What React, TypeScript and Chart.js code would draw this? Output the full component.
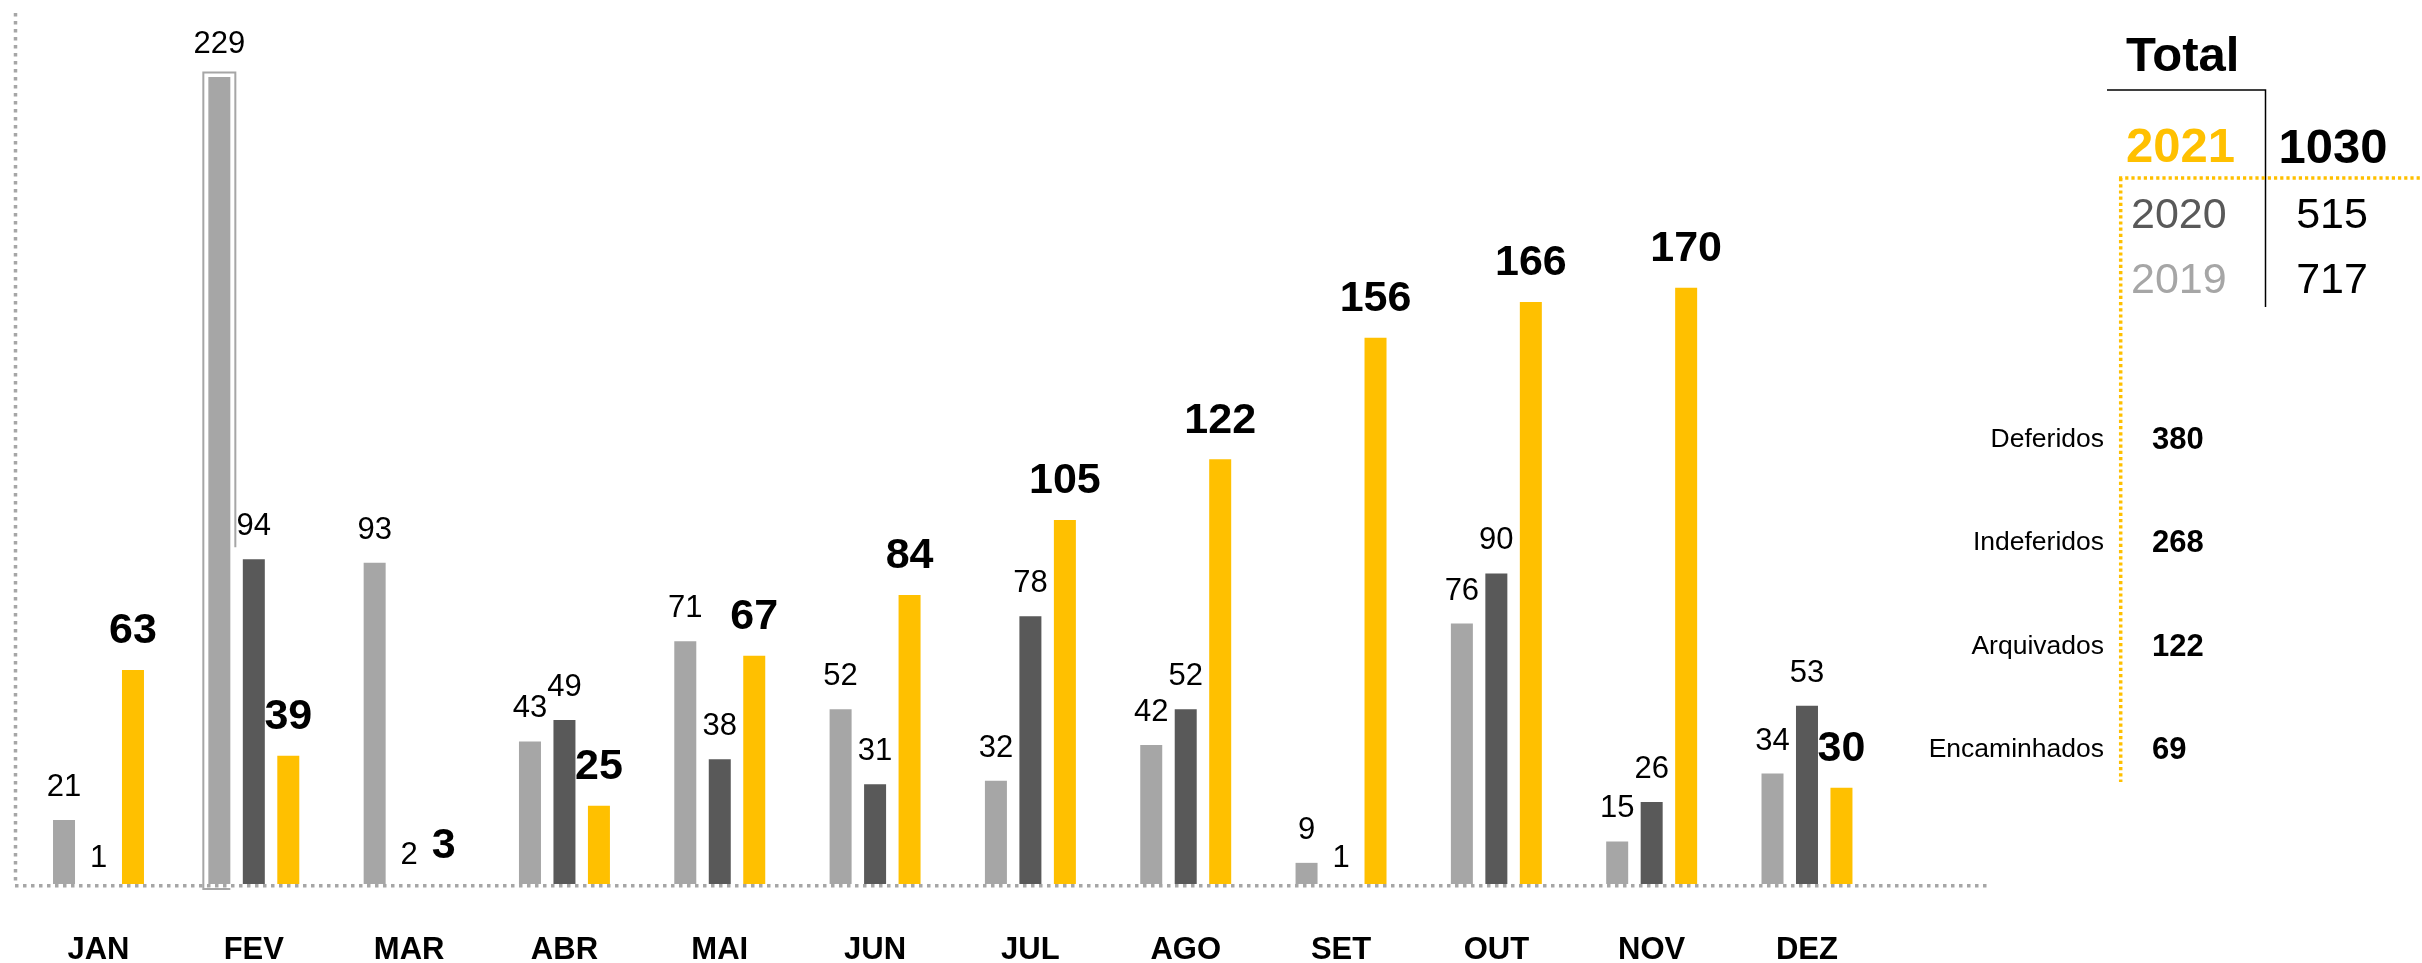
import { useEffect, useRef } from 'react';
import { Chart, registerables } from 'chart.js';

Chart.register(...registerables);

const months = ['JAN', 'FEV', 'MAR', 'ABR', 'MAI', 'JUN', 'JUL', 'AGO', 'SET', 'OUT', 'NOV', 'DEZ'];
const years = ['2019', '2020', '2021'];
const values2019 = [21, 229, 93, 43, 71, 52, 32, 42, 9, 76, 15, 34];
const values2020 = [1, 94, 2, 49, 38, 31, 78, 52, 1, 90, 26, 53];
const values2021 = [63, 39, 3, 25, 67, 84, 105, 122, 156, 166, 170, 30];
const statusLabels = ['Deferidos', 'Indeferidos', 'Arquivados', 'Encaminhados'];
const statusValues = [380, 268, 122, 69];

const yearColors = ['#A6A6A6', '#595959', '#FFC000'];
const FONT = "'Liberation Sans', Arial, Helvetica, sans-serif";

const sum = (a: number[]) => a.reduce((s, v) => s + v, 0);

const axisLinesPlugin = {
  id: 'axisLines',
  beforeDatasetsDraw(chart: any) {
    const { ctx, chartArea } = chart;
    ctx.save();
    ctx.strokeStyle = '#A6A6A6';
    ctx.lineWidth = 3.5;
    ctx.setLineDash([3.5, 4.5]);
    ctx.beginPath();
    ctx.moveTo(chartArea.left + 0.5, chartArea.top);
    ctx.lineTo(chartArea.left + 0.5, chartArea.bottom);
    ctx.stroke();
    ctx.beginPath();
    ctx.moveTo(chartArea.left, chartArea.bottom + 1.8);
    ctx.lineTo(chartArea.right, chartArea.bottom + 1.8);
    ctx.stroke();
    ctx.restore();
  },
};

const highlightPlugin = {
  id: 'highlightBox',
  afterDatasetsDraw(chart: any) {
    const { ctx, chartArea } = chart;
    const el = chart.getDatasetMeta(0).data[1];
    const next = chart.getDatasetMeta(1).data[1];
    if (!el || !next) return;
    const half = el.width / 2;
    const left = el.x - half - 5;
    const right = el.x + half + 5;
    const top = el.y - 4.5;
    const bottom = chartArea.bottom + 5;
    ctx.save();
    ctx.strokeStyle = '#A6A6A6';
    ctx.lineWidth = 2;
    ctx.beginPath();
    ctx.moveTo(right, next.y - 12);
    ctx.lineTo(right, top);
    ctx.lineTo(left, top);
    ctx.lineTo(left, bottom);
    ctx.lineTo(el.x + half, bottom);
    ctx.stroke();
    ctx.restore();
  },
};

const valueLabelsPlugin = {
  id: 'valueLabels',
  afterDatasetsDraw(chart: any) {
    const { ctx } = chart;
    chart.data.datasets.forEach((ds: any, di: number) => {
      const meta = chart.getDatasetMeta(di);
      const bold = di === 2;
      ctx.save();
      ctx.font = `${bold ? 'bold ' : ''}${bold ? 43 : 31}px ${FONT}`;
      ctx.fillStyle = '#000';
      ctx.textAlign = 'center';
      ctx.textBaseline = 'alphabetic';
      meta.data.forEach((el: any, i: number) => {
        const v = ds.data[i].y;
        ctx.fillText(String(v), el.x, el.y - (bold ? 26.5 : 24));
      });
      ctx.restore();
    });
  },
};

const panelPlugin = {
  id: 'totalsPanel',
  afterDraw(chart: any) {
    const { ctx } = chart;
    const totals = [sum(values2019), sum(values2020), sum(values2021)];
    ctx.save();
    ctx.textBaseline = 'alphabetic';

    // Title
    ctx.fillStyle = '#000';
    ctx.textAlign = 'left';
    ctx.font = `bold 49px ${FONT}`;
    ctx.fillText('Total', 2126, 71);

    // black corner lines
    ctx.strokeStyle = '#000';
    ctx.lineWidth = 1.5;
    ctx.beginPath();
    ctx.moveTo(2107, 90);
    ctx.lineTo(2265.5, 90);
    ctx.lineTo(2265.5, 307);
    ctx.stroke();

    // yellow dotted lines
    ctx.strokeStyle = '#FFC000';
    ctx.lineWidth = 3.5;
    ctx.setLineDash([3.2, 3]);
    ctx.beginPath();
    ctx.moveTo(2119, 178);
    ctx.lineTo(2422, 178);
    ctx.stroke();
    ctx.beginPath();
    ctx.moveTo(2120.7, 178);
    ctx.lineTo(2120.7, 782);
    ctx.stroke();
    ctx.setLineDash([]);

    // 2021 row
    ctx.font = `bold 49px ${FONT}`;
    ctx.fillStyle = yearColors[2];
    ctx.textAlign = 'left';
    ctx.fillText(years[2], 2126, 162);
    ctx.fillStyle = '#000';
    ctx.textAlign = 'center';
    ctx.fillText(String(totals[2]), 2333, 162.5);

    // 2020 / 2019 rows
    ctx.font = `43px ${FONT}`;
    [
      { yi: 1, y: 227.7 },
      { yi: 0, y: 293.3 },
    ].forEach(({ yi, y }) => {
      ctx.fillStyle = yearColors[yi];
      ctx.textAlign = 'left';
      ctx.fillText(years[yi], 2131, y);
      ctx.fillStyle = '#000';
      ctx.textAlign = 'center';
      ctx.fillText(String(totals[yi]), 2332, y);
    });

    // status breakdown
    statusLabels.forEach((lab, i) => {
      const y = 446.7 + i * 103.4;
      ctx.fillStyle = '#000';
      ctx.font = `26.5px ${FONT}`;
      ctx.textAlign = 'right';
      ctx.fillText(lab, 2104, y);
      ctx.font = `bold 31px ${FONT}`;
      ctx.textAlign = 'left';
      ctx.fillText(String(statusValues[i]), 2152, y + 2.3);
    });
    ctx.restore();
  },
};

export default function App() {
  const ref = useRef<HTMLCanvasElement | null>(null);

  useEffect(() => {
    if (!ref.current) return;
    const series = [values2019, values2020, values2021];
    const chart = new Chart(ref.current, {
      type: 'bar',
      data: {
        datasets: series.map((vals, si) => ({
          label: years[si],
          data: vals.map((v, i) => ({ x: i, y: v })),
          backgroundColor: yearColors[si],
          borderWidth: 0,
          categoryPercentage: 0.666,
          barPercentage: 0.638,
          clip: 0,
        })) as any,
      },
      options: {
        responsive: false,
        animation: false,
        layout: { padding: { left: 15, top: 13, right: 435, bottom: 0 } },
        plugins: {
          legend: { display: false },
          tooltip: { enabled: false },
        },
        scales: {
          x: {
            type: 'linear',
            offset: false,
            bounds: 'data',
            min: -0.5376,
            max: 12.159,
            grid: { display: false },
            border: { display: false },
            afterBuildTicks: (scale: any) => {
              scale.ticks = months.map((_, i) => ({ value: i }));
            },
            afterFit: (scale: any) => {
              scale.height = 79;
            },
            ticks: {
              autoSkip: false,
              maxRotation: 0,
              minRotation: 0,
              padding: 40,
              color: '#000',
              font: { family: FONT, size: 31, weight: 'bold' },
              callback: (v: any) => months[v] ?? '',
            },
          },
          y: {
            display: false,
            min: 3.08,
            max: 246.9,
          },
        },
      } as any,
      plugins: [axisLinesPlugin, highlightPlugin, valueLabelsPlugin, panelPlugin],
    });
    return () => chart.destroy();
  }, []);

  return (
    <div style={{ position: 'fixed', left: 0, top: 0, width: 2422, height: 963, background: '#fff' }}>
      <canvas ref={ref} width={2422} height={963} style={{ display: 'block' }} />
    </div>
  );
}
